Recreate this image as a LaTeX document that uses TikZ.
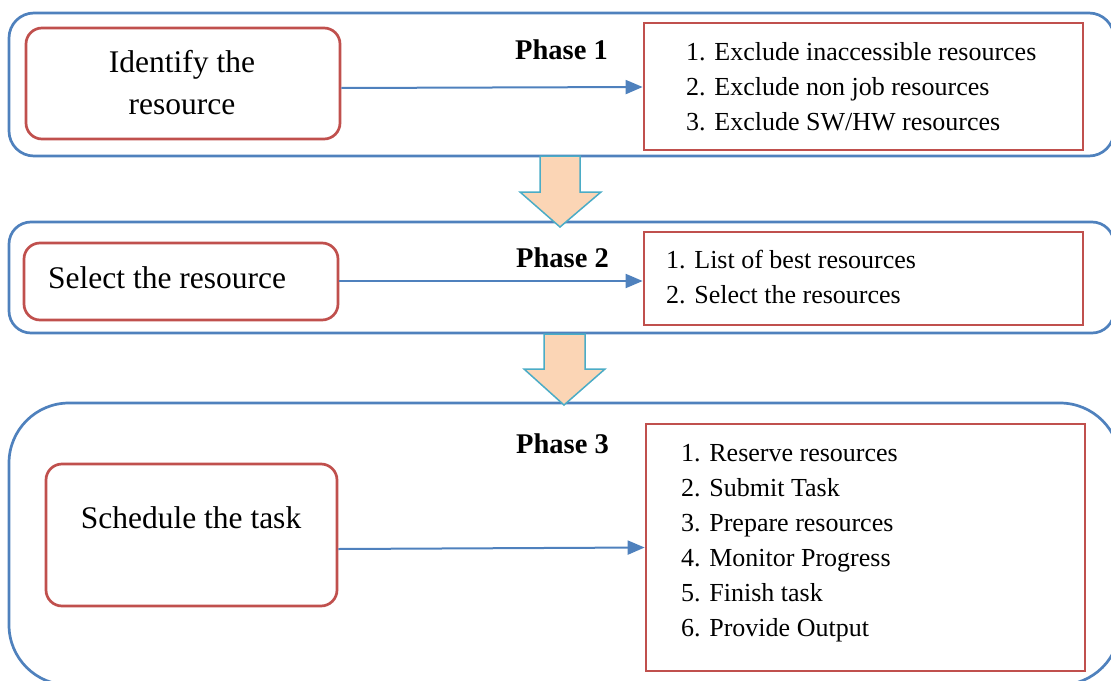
\documentclass[tikz,border=0pt]{standalone}
\usepackage{fontspec}
\setmainfont{Liberation Serif}
\usetikzlibrary{arrows.meta}
\definecolor{outerblue}{HTML}{4F81BD}
\definecolor{boxred}{HTML}{C0504D}
\definecolor{peach}{HTML}{FBD5B5}
\definecolor{aqua}{HTML}{4BACC6}
\tikzset{
  outerbox/.style={draw=outerblue, line width=2.7pt},
  lbox/.style={draw=boxred, line width=2.7pt, rounded corners=16pt, inner sep=0pt},
  listbox/.style={draw=boxred, line width=2.7pt, inner sep=0pt},
  conn/.style={draw=outerblue, line width=2pt, -{Triangle[length=17pt,width=14pt]}},
  bigarrow/.style={fill=peach, draw=aqua, line width=1.5pt},
  lbl/.style={font=\fontsize{31.5}{36}\selectfont, inner sep=0pt},
  phase/.style={font=\fontsize{28.5}{33}\selectfont\bfseries, inner sep=0pt, anchor=base west},
  item/.style={font=\fontsize{26}{31}\selectfont, inner sep=0pt, anchor=base west},
}
\begin{document}
\begin{tikzpicture}[x=1pt,y=-1pt]
\useasboundingbox (0,0) rectangle (1111,680);
\clip (0,0) rectangle (1111,680);
% outer phase frames
\draw[outerbox, rounded corners=25pt] (9,13) rectangle (1114,156);
\draw[outerbox, rounded corners=22pt] (9,222) rectangle (1114,333);
\draw[outerbox, rounded corners=60pt] (9,403) rectangle (1120,685);
% big down arrows
\draw[bigarrow] (540,156) -- (580,156) -- (580,192) -- (601,192) -- (560,227) -- (520,192) -- (540,192) -- cycle;
\draw[bigarrow] (544,334) -- (585,334) -- (585,369) -- (605,369) -- (564,405) -- (524,369) -- (544,369) -- cycle;
% phase 1
\node[lbox, minimum width=314pt, minimum height=111pt] (ident) at (183,83.5) {};
\node[lbl, anchor=base] (identa) at (182,72) {Identify the};
\node[lbl, anchor=base] (identb) at (182,114) {resource};
\node[listbox, minimum width=439pt, minimum height=127pt] (list1) at (863.5,86.5) {};
\node[phase] (ph1) at (515,59) {Phase 1};
\node[item] (l1a) at (686,60) {1. Exclude inaccessible resources};
\node[item] (l1b) at (686,95) {2. Exclude non job resources};
\node[item] (l1c) at (686,130) {3. Exclude SW/HW resources};
\draw[conn] ([yshift=-4.5pt]ident.east) -- ([yshift=-0.5pt]list1.west);
% phase 2
\node[lbox, minimum width=314pt, minimum height=77pt] (sel) at (181,281.5) {};
\node[lbl, anchor=base west] (sela) at (48,288) {Select the resource};
\node[listbox, minimum width=439pt, minimum height=93pt] (list2) at (863.5,278.5) {};
\node[phase] (ph2) at (516,267) {Phase 2};
\node[item] (l2a) at (666,268) {1. List of best resources};
\node[item] (l2b) at (666,303) {2. Select the resources};
\draw[conn] ([yshift=0.5pt]sel.east) -- ([yshift=-2.5pt]list2.west);
% phase 3
\node[lbox, minimum width=291pt, minimum height=142pt] (sched) at (191.5,535) {};
\node[lbl, anchor=base] (scheda) at (191,528) {Schedule the task};
\node[listbox, minimum width=439pt, minimum height=247pt] (list3) at (865.5,547.5) {};
\node[phase] (ph3) at (516,453) {Phase 3};
\node[item] (l3a) at (681,461) {1. Reserve resources};
\node[item] (l3b) at (681,496) {2. Submit Task};
\node[item] (l3c) at (681,531) {3. Prepare resources};
\node[item] (l3d) at (681,566) {4. Monitor Progress};
\node[item] (l3e) at (681,601) {5. Finish task};
\node[item] (l3f) at (681,636) {6. Provide Output};
\draw[conn] ([yshift=-14pt]sched.east) -- (list3.west);
\end{tikzpicture}
\end{document}
